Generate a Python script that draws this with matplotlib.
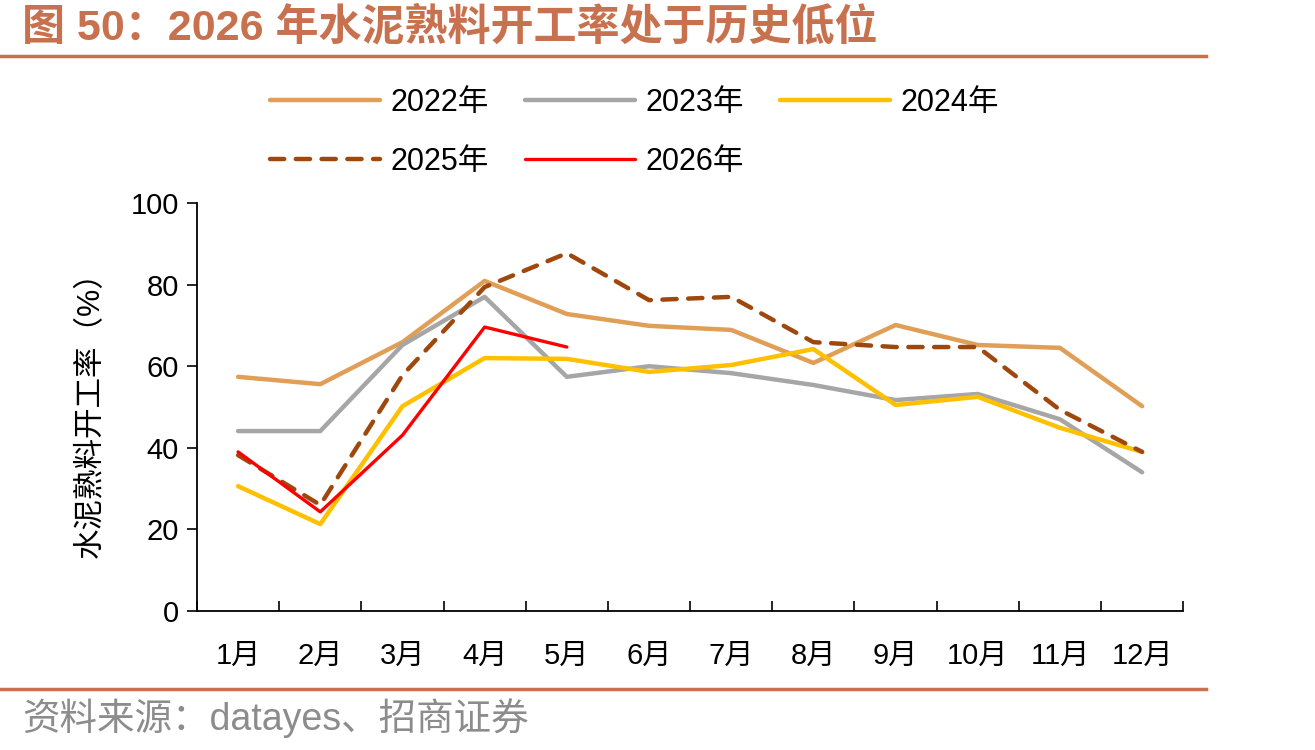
import matplotlib
matplotlib.use("Agg")
import matplotlib.pyplot as plt
import numpy as np

plt.rcParams['font.family'] = ['Liberation Sans', 'Noto Sans CJK SC', 'DejaVu Sans']

months = ['1月', '2月', '3月', '4月', '5月', '6月', '7月', '8月', '9月', '10月', '11月', '12月']
y2022 = [57.4, 55.6, 65.9, 80.9, 72.8, 69.9, 68.9, 60.8, 70.1, 65.2, 64.5, 50.2]
y2023 = [44.1, 44.1, 65.2, 77.0, 57.4, 60.0, 58.3, 55.4, 51.7, 53.2, 47.0, 34.0]
y2024 = [30.6, 21.3, 50.2, 62.0, 61.8, 58.6, 60.3, 64.2, 50.5, 52.5, 44.9, 39.0]
y2025 = [38.2, 26.0, 57.8, 79.4, 87.7, 76.2, 77.0, 65.9, 64.7, 64.7, 49.3, 39.0]
y2026 = [39.0, 24.3, 43.1, 69.6, 64.7]

title = '图 50：2026 年水泥熟料开工率处于历史低位'
source = '资料来源：datayes、招商证券'
accent = '#C8714F'
fz = 21

fig = plt.figure(figsize=(13.15, 7.5), dpi=100)
ax = fig.add_axes([0.1498, 0.1853, 0.75, 0.544])

x = np.arange(len(months))
l22, = ax.plot(x, y2022, color='#E09E57', lw=3.2, label='2022年', solid_capstyle='round')
l23, = ax.plot(x, y2023, color='#A6A6A6', lw=3.2, label='2023年', solid_capstyle='round')
l24, = ax.plot(x, y2024, color='#FFC000', lw=3.2, label='2024年', solid_capstyle='round')
l25, = ax.plot(x, y2025, color='#9E480E', lw=3.2, ls=(0, (3.2, 2.6)), label='2025年', dash_capstyle='round')
l26, = ax.plot(np.arange(len(y2026)), y2026, color='#FF0000', lw=2.4, label='2026年', solid_capstyle='round')

ax.set_xlim(-0.5, len(months) - 0.5)
ax.set_ylim(0, 100)
ax.set_yticks(np.arange(0, 101, 20))
ax.tick_params(axis='y', direction='out', length=7, width=1.2, labelsize=fz, pad=6)
ax.set_xticks(x)
ax.set_xticklabels(months, fontsize=fz)
ax.tick_params(axis='x', which='major', length=0, pad=22)
ax.set_xticks(np.arange(-0.5, len(months), 1), minor=True)
ax.tick_params(axis='x', which='minor', direction='in', length=7, width=1.2)
for s in ['top', 'right']:
    ax.spines[s].set_visible(False)
for s in ['left', 'bottom']:
    ax.spines[s].set_linewidth(1.3)
ax.set_ylabel('水泥熟料开工率（%）', fontsize=fz + 1, labelpad=18)

# row-major order: 2022 2023 2024 / 2025 2026
ax.legend([l22, l25, l23, l26, l24], ['2022年', '2025年', '2023年', '2026年', '2024年'],
          loc='upper left', bbox_to_anchor=(0.062, 1.312), borderaxespad=0,
          ncol=3, frameon=False, fontsize=fz + 1, handlelength=3.6, handletextpad=0.33,
          columnspacing=1.2, labelspacing=0.95)

fig.text(0.017, 0.963, title, fontsize=31, fontweight='bold', color=accent, va='center')
fig.add_artist(plt.Line2D([0, 0.917], [0.925, 0.925], color=accent, lw=2.5))
fig.add_artist(plt.Line2D([0, 0.917], [0.081, 0.081], color=accent, lw=2.5))
fig.text(0.017, 0.043, source, fontsize=27, color='#8C8C8C', va='center')

fig.savefig('out.png', dpi=100)
